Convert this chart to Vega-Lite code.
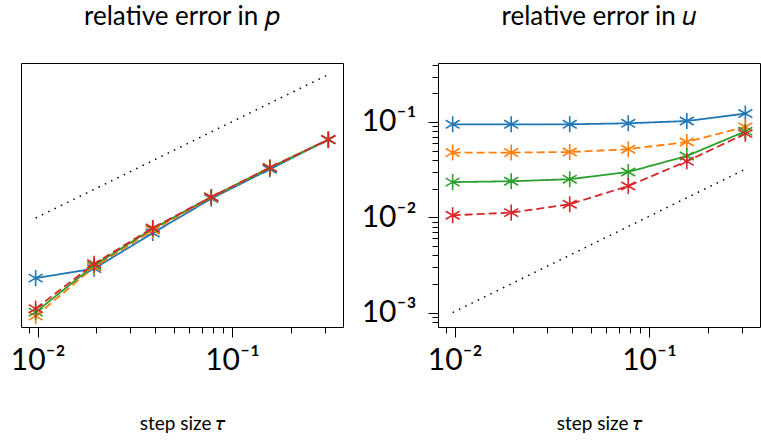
{
  "$schema": "https://vega.github.io/schema/vega-lite/v6.json",
  "padding": {"left": 9, "top": 3, "right": 0, "bottom": 0},
  "spacing": 0,
  "config": {
    "view": {"stroke": "black", "strokeWidth": 1},
    "font": "Lato",
    "title": {"font": "Lato", "fontSize": 26, "fontWeight": "normal", "baseline": "alphabetic", "offset": 33, "color": "black"},
    "axis": {"grid": false, "domain": false, "tickColor": "black", "labelColor": "black", "titleColor": "black", "labelFont": "Lato", "titleFont": "Lato", "titleFontWeight": "normal"}
  },
  "datasets": {
    "err": [
      {"panel": "p", "series": "a", "tau": 0.009765625, "err": 0.00139},
      {"panel": "p", "series": "a", "tau": 0.01953125, "err": 0.00175},
      {"panel": "p", "series": "a", "tau": 0.0390625, "err": 0.00413},
      {"panel": "p", "series": "a", "tau": 0.078125, "err": 0.00949},
      {"panel": "p", "series": "a", "tau": 0.15625, "err": 0.0193},
      {"panel": "p", "series": "a", "tau": 0.3125, "err": 0.0395},
      {"panel": "p", "series": "b", "tau": 0.009765625, "err": 0.000556},
      {"panel": "p", "series": "b", "tau": 0.01953125, "err": 0.00182},
      {"panel": "p", "series": "b", "tau": 0.0390625, "err": 0.00441},
      {"panel": "p", "series": "b", "tau": 0.078125, "err": 0.00972},
      {"panel": "p", "series": "b", "tau": 0.15625, "err": 0.0200},
      {"panel": "p", "series": "b", "tau": 0.3125, "err": 0.0395},
      {"panel": "p", "series": "c", "tau": 0.009765625, "err": 0.000612},
      {"panel": "p", "series": "c", "tau": 0.01953125, "err": 0.00189},
      {"panel": "p", "series": "c", "tau": 0.0390625, "err": 0.00459},
      {"panel": "p", "series": "c", "tau": 0.078125, "err": 0.00986},
      {"panel": "p", "series": "c", "tau": 0.15625, "err": 0.0200},
      {"panel": "p", "series": "c", "tau": 0.3125, "err": 0.0394},
      {"panel": "p", "series": "d", "tau": 0.009765625, "err": 0.000665},
      {"panel": "p", "series": "d", "tau": 0.01953125, "err": 0.00197},
      {"panel": "p", "series": "d", "tau": 0.0390625, "err": 0.00467},
      {"panel": "p", "series": "d", "tau": 0.078125, "err": 0.00986},
      {"panel": "p", "series": "d", "tau": 0.15625, "err": 0.0201},
      {"panel": "p", "series": "d", "tau": 0.3125, "err": 0.0395},
      {"panel": "u", "series": "a", "tau": 0.009765625, "err": 0.0946},
      {"panel": "u", "series": "a", "tau": 0.01953125, "err": 0.0946},
      {"panel": "u", "series": "a", "tau": 0.0390625, "err": 0.0946},
      {"panel": "u", "series": "a", "tau": 0.078125, "err": 0.0969},
      {"panel": "u", "series": "a", "tau": 0.15625, "err": 0.1024},
      {"panel": "u", "series": "a", "tau": 0.3125, "err": 0.1225},
      {"panel": "u", "series": "b", "tau": 0.009765625, "err": 0.0478},
      {"panel": "u", "series": "b", "tau": 0.01953125, "err": 0.0478},
      {"panel": "u", "series": "b", "tau": 0.0390625, "err": 0.0484},
      {"panel": "u", "series": "b", "tau": 0.078125, "err": 0.0518},
      {"panel": "u", "series": "b", "tau": 0.15625, "err": 0.0617},
      {"panel": "u", "series": "b", "tau": 0.3125, "err": 0.0887},
      {"panel": "u", "series": "c", "tau": 0.009765625, "err": 0.0234},
      {"panel": "u", "series": "c", "tau": 0.01953125, "err": 0.0239},
      {"panel": "u", "series": "c", "tau": 0.0390625, "err": 0.0251},
      {"panel": "u", "series": "c", "tau": 0.078125, "err": 0.0299},
      {"panel": "u", "series": "c", "tau": 0.15625, "err": 0.0440},
      {"panel": "u", "series": "c", "tau": 0.3125, "err": 0.0798},
      {"panel": "u", "series": "d", "tau": 0.009765625, "err": 0.0105},
      {"panel": "u", "series": "d", "tau": 0.01953125, "err": 0.0112},
      {"panel": "u", "series": "d", "tau": 0.0390625, "err": 0.0137},
      {"panel": "u", "series": "d", "tau": 0.078125, "err": 0.0213},
      {"panel": "u", "series": "d", "tau": 0.15625, "err": 0.0387},
      {"panel": "u", "series": "d", "tau": 0.3125, "err": 0.0755}
    ],
    "ref": [
      {"panel": "p", "tau": 0.009765625, "err": 0.00594},
      {"panel": "p", "tau": 0.3125, "err": 0.190},
      {"panel": "u", "tau": 0.009765625, "err": 0.001},
      {"panel": "u", "tau": 0.3125, "err": 0.032}
    ]
  },
  "hconcat": [
    {
      "width": 322,
      "height": 264,
      "title": {"text": "relative error in 𝑝"},
      "layer": [
        {
          "data": {"name": "ref"},
          "transform": [{"filter": "datum.panel == 'p'"}],
          "mark": {"type": "line", "color": "black", "strokeWidth": 1.5, "strokeDash": [1.5, 5.5], "strokeCap": "butt"},
          "encoding": {
            "x": {"field": "tau", "type": "quantitative"},
            "y": {"field": "err", "type": "quantitative"}
          }
        },
        {
          "data": {"name": "err"},
          "transform": [{"filter": "datum.panel == 'p'"}],
          "mark": {"type": "line", "strokeWidth": 1.8},
          "encoding": {
            "x": {"field": "tau", "type": "quantitative"},
            "y": {"field": "err", "type": "quantitative"},
            "color": {"field": "series", "type": "nominal", "legend": null, "scale": {"domain": ["a", "b", "c", "d"], "range": ["#1f77b4", "#ff7f0e", "#2ca02c", "#d62728"]}},
            "strokeDash": {"field": "series", "type": "nominal", "legend": null, "scale": {"domain": ["a", "b", "c", "d"], "range": [[1, 0], [8, 4], [1, 0], [8, 4]]}}
          }
        },
        {
          "data": {"name": "err"},
          "transform": [{"filter": "datum.panel == 'p'"}],
          "mark": {"type": "point", "shape": "M0,-1L0,1M-0.866,-0.5L0.866,0.5M-0.866,0.5L0.866,-0.5", "filled": false, "size": 260, "strokeWidth": 1.6, "opacity": 1},
          "encoding": {
            "x": {"field": "tau", "type": "quantitative"},
            "y": {"field": "err", "type": "quantitative"},
            "color": {"field": "series", "type": "nominal", "legend": null, "scale": {"domain": ["a", "b", "c", "d"], "range": ["#1f77b4", "#ff7f0e", "#2ca02c", "#d62728"]}}
          }
        }
      ],
      "encoding": {
        "x": {"field": "tau", "type": "quantitative",
          "scale": {"type": "log", "domain": [0.00821, 0.3717], "nice": false},
          "axis": {"title": "step size 𝜏", "titleFontSize": 19, "titlePadding": 39, "labelFontSize": 30, "labelPadding": 8,
            "values": [0.009, 0.01, 0.02, 0.03, 0.04, 0.05, 0.06, 0.07, 0.08, 0.09, 0.1, 0.2, 0.3],
            "labelExpr": "datum.value == 0.01 ? '10⁻²' : datum.value == 0.1 ? '10⁻¹' : ''",
            "tickSize": {"condition": {"test": "datum.value == 0.01 || datum.value == 0.1", "value": 10}, "value": 6}}
        },
        "y": {"field": "err", "type": "quantitative",
          "scale": {"type": "log", "domain": [0.000427, 0.2512], "nice": false},
          "axis": null}
      }
    },
    {
      "width": 322,
      "height": 264,
      "title": {"text": "relative error in 𝑢"},
      "layer": [
        {
          "data": {"name": "ref"},
          "transform": [{"filter": "datum.panel == 'u'"}],
          "mark": {"type": "line", "color": "black", "strokeWidth": 1.5, "strokeDash": [1.5, 5.5], "strokeCap": "butt"},
          "encoding": {
            "x": {"field": "tau", "type": "quantitative"},
            "y": {"field": "err", "type": "quantitative"}
          }
        },
        {
          "data": {"name": "err"},
          "transform": [{"filter": "datum.panel == 'u'"}],
          "mark": {"type": "line", "strokeWidth": 1.8},
          "encoding": {
            "x": {"field": "tau", "type": "quantitative"},
            "y": {"field": "err", "type": "quantitative"},
            "color": {"field": "series", "type": "nominal", "legend": null, "scale": {"domain": ["a", "b", "c", "d"], "range": ["#1f77b4", "#ff7f0e", "#2ca02c", "#d62728"]}},
            "strokeDash": {"field": "series", "type": "nominal", "legend": null, "scale": {"domain": ["a", "b", "c", "d"], "range": [[1, 0], [8, 4], [1, 0], [8, 4]]}}
          }
        },
        {
          "data": {"name": "err"},
          "transform": [{"filter": "datum.panel == 'u'"}],
          "mark": {"type": "point", "shape": "M0,-1L0,1M-0.866,-0.5L0.866,0.5M-0.866,0.5L0.866,-0.5", "filled": false, "size": 260, "strokeWidth": 1.6, "opacity": 1},
          "encoding": {
            "x": {"field": "tau", "type": "quantitative"},
            "y": {"field": "err", "type": "quantitative"},
            "color": {"field": "series", "type": "nominal", "legend": null, "scale": {"domain": ["a", "b", "c", "d"], "range": ["#1f77b4", "#ff7f0e", "#2ca02c", "#d62728"]}}
          }
        }
      ],
      "encoding": {
        "x": {"field": "tau", "type": "quantitative",
          "scale": {"type": "log", "domain": [0.00821, 0.3717], "nice": false},
          "axis": {"title": "step size 𝜏", "titleFontSize": 19, "titlePadding": 39, "labelFontSize": 30, "labelPadding": 8,
            "values": [0.009, 0.01, 0.02, 0.03, 0.04, 0.05, 0.06, 0.07, 0.08, 0.09, 0.1, 0.2, 0.3],
            "labelExpr": "datum.value == 0.01 ? '10⁻²' : datum.value == 0.1 ? '10⁻¹' : ''",
            "tickSize": {"condition": {"test": "datum.value == 0.01 || datum.value == 0.1", "value": 10}, "value": 6}}
        },
        "y": {"field": "err", "type": "quantitative",
          "scale": {"type": "log", "domain": [0.000706, 0.416], "nice": false},
          "axis": {"title": null, "labelFontSize": 30, "labelPadding": 12, "minExtent": 93, "maxExtent": 93,
            "values": [0.0008, 0.0009, 0.001, 0.002, 0.003, 0.004, 0.005, 0.006, 0.007, 0.008, 0.009, 0.01, 0.02, 0.03, 0.04, 0.05, 0.06, 0.07, 0.08, 0.09, 0.1, 0.2, 0.3, 0.4],
            "labelExpr": "datum.value == 0.001 ? '10⁻³' : datum.value == 0.01 ? '10⁻²' : datum.value == 0.1 ? '10⁻¹' : ''",
            "labelBaseline": "middle",
            "tickSize": {"condition": {"test": "datum.value == 0.001 || datum.value == 0.01 || datum.value == 0.1", "value": 10}, "value": 6}}
        }
      }
    }
  ]
}
